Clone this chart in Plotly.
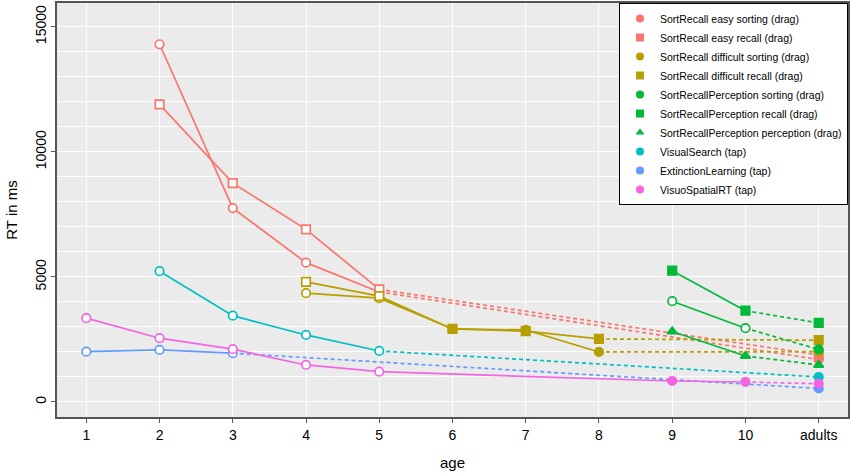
import plotly.graph_objects as go

# x categories
ages = ["1", "2", "3", "4", "5", "6", "7", "8", "9", "10", "adults"]

# mean RT in ms per age group (None = not tested)
easy_sorting = [None, 14300, 7750, 5570, 4400, None, None, None, None, None, 1700]
easy_recall = [None, 11900, 8750, 6900, 4500, None, None, None, None, None, 1880]
diff_sorting = [None, None, None, 4350, 4150, 2920, 2880, 2000, None, None, 2010]
diff_recall = [None, None, None, 4800, 4230, 2920, 2830, 2520, None, None, 2470]
srp_sorting = [None, None, None, None, None, None, None, None, 4030, 2950, 2100]
srp_recall = [None, None, None, None, None, None, None, None, 5250, 3650, 3160]
srp_perception = [None, None, None, None, None, None, None, None, 2820, 1840, 1480]
visual_search = [None, 5230, 3450, 2680, 2040, None, None, None, None, None, 1000]
extinction = [2010, 2080, 1950, None, None, None, None, None, None, None, 540]
visuospatial = [3350, 2550, 2110, 1480, 1210, None, None, None, 840, 800, 730]

# hollow points (1 = hollow, 0 = filled)
easy_sorting_open = [0, 1, 1, 1, 1, 0, 0, 0, 0, 0, 0]
easy_recall_open = [0, 1, 1, 1, 1, 0, 0, 0, 0, 0, 0]
diff_sorting_open = [0, 0, 0, 1, 1, 0, 0, 0, 0, 0, 0]
diff_recall_open = [0, 0, 0, 1, 1, 0, 0, 0, 0, 0, 0]
srp_sorting_open = [0, 0, 0, 0, 0, 0, 0, 0, 1, 1, 0]
srp_recall_open = [0] * 11
srp_perception_open = [0] * 11
visual_search_open = [0, 1, 1, 1, 1, 0, 0, 0, 0, 0, 0]
extinction_open = [1, 1, 1, 0, 0, 0, 0, 0, 0, 0, 0]
visuospatial_open = [1, 1, 1, 1, 1, 0, 0, 0, 0, 0, 0]

y_ticks = [0, 5000, 10000, 15000]

series = [
    ("SortRecall easy sorting (drag)", easy_sorting, easy_sorting_open, "#F8766D", "circle"),
    ("SortRecall easy recall (drag)", easy_recall, easy_recall_open, "#F8766D", "square"),
    ("SortRecall difficult sorting (drag)", diff_sorting, diff_sorting_open, "#B79F00", "circle"),
    ("SortRecall difficult recall (drag)", diff_recall, diff_recall_open, "#B79F00", "square"),
    ("SortRecallPerception sorting (drag)", srp_sorting, srp_sorting_open, "#00BA38", "circle"),
    ("SortRecallPerception recall (drag)", srp_recall, srp_recall_open, "#00BA38", "square"),
    ("SortRecallPerception perception (drag)", srp_perception, srp_perception_open, "#00BA38", "triangle-up"),
    ("VisualSearch (tap)", visual_search, visual_search_open, "#00BFC4", "circle"),
    ("ExtinctionLearning (tap)", extinction, extinction_open, "#619CFF", "circle"),
    ("VisuoSpatialRT (tap)", visuospatial, visuospatial_open, "#F564E3", "circle"),
]

fig = go.Figure()

# lines: solid among children, dashed from last child age to adults
for name, vals, opn, col, sym in series:
    kid_x = [a for a, v in zip(ages[:-1], vals[:-1]) if v is not None]
    kid_y = [v for v in vals[:-1] if v is not None]
    fig.add_trace(go.Scatter(x=kid_x, y=kid_y, mode="lines", showlegend=False,
                             line=dict(color=col, width=1.7), hoverinfo="skip"))
    fig.add_trace(go.Scatter(x=[kid_x[-1], ages[-1]], y=[kid_y[-1], vals[-1]], mode="lines",
                             showlegend=False, hoverinfo="skip",
                             line=dict(color=col, width=1.7, dash="4px,3px")))

# points on top
for name, vals, opn, col, sym in series:
    px = [a for a, v in zip(ages, vals) if v is not None]
    py = [v for v in vals if v is not None]
    fills = ["white" if o else col for o, v in zip(opn, vals) if v is not None]
    fig.add_trace(go.Scatter(x=px, y=py, mode="markers", name=name, showlegend=False,
                             marker=dict(symbol=sym, size=8.5, color=fills,
                                         line=dict(color=col, width=1.7))))

# legend entries
for name, vals, opn, col, sym in series:
    fig.add_trace(go.Scatter(x=[None], y=[None], mode="markers", name=name,
                             marker=dict(symbol=sym, size=8, color=col)))

fig.update_layout(
    width=851, height=474,
    margin=dict(l=57, r=3, t=3, b=57, autoexpand=False),
    plot_bgcolor="#EBEBEB",
    paper_bgcolor="white",
    font=dict(family="Liberation Sans, Arial, sans-serif", color="black", size=14),
    legend=dict(x=1, xanchor="right", y=1, yanchor="top", bgcolor="white",
                bordercolor="black", borderwidth=1, font=dict(size=10.5),
                itemwidth=30, tracegroupgap=0),
)

fig.update_xaxes(
    type="category", categoryorder="array", categoryarray=ages,
    range=[-0.4, 10.4], automargin=False,
    showgrid=True, gridcolor="white", gridwidth=1,
    showline=True, linecolor="#555", linewidth=1.5, mirror=True,
    ticks="outside", ticklen=4, tickcolor="#555",
    tickfont=dict(size=14),
    title=dict(text="age", font=dict(size=15), standoff=16),
    zeroline=False,
)
fig.update_yaxes(
    range=[-600, 15950], automargin=False,
    tickvals=y_ticks, ticktext=[str(t) for t in y_ticks], tickangle=-90,
    showgrid=True, gridcolor="white", gridwidth=1,
    minor=dict(dtick=1000, tick0=0, showgrid=True, gridcolor="white", gridwidth=1),
    showline=True, linecolor="#555", linewidth=1.5, mirror=True,
    ticks="outside", ticklen=4, tickcolor="#555",
    tickfont=dict(size=14),
    title=dict(text="RT in ms", font=dict(size=15), standoff=11),
    zeroline=False,
)

fig.write_html("out.html", config={"displayModeBar": False},
               post_script="document.body.style.margin='0';")
